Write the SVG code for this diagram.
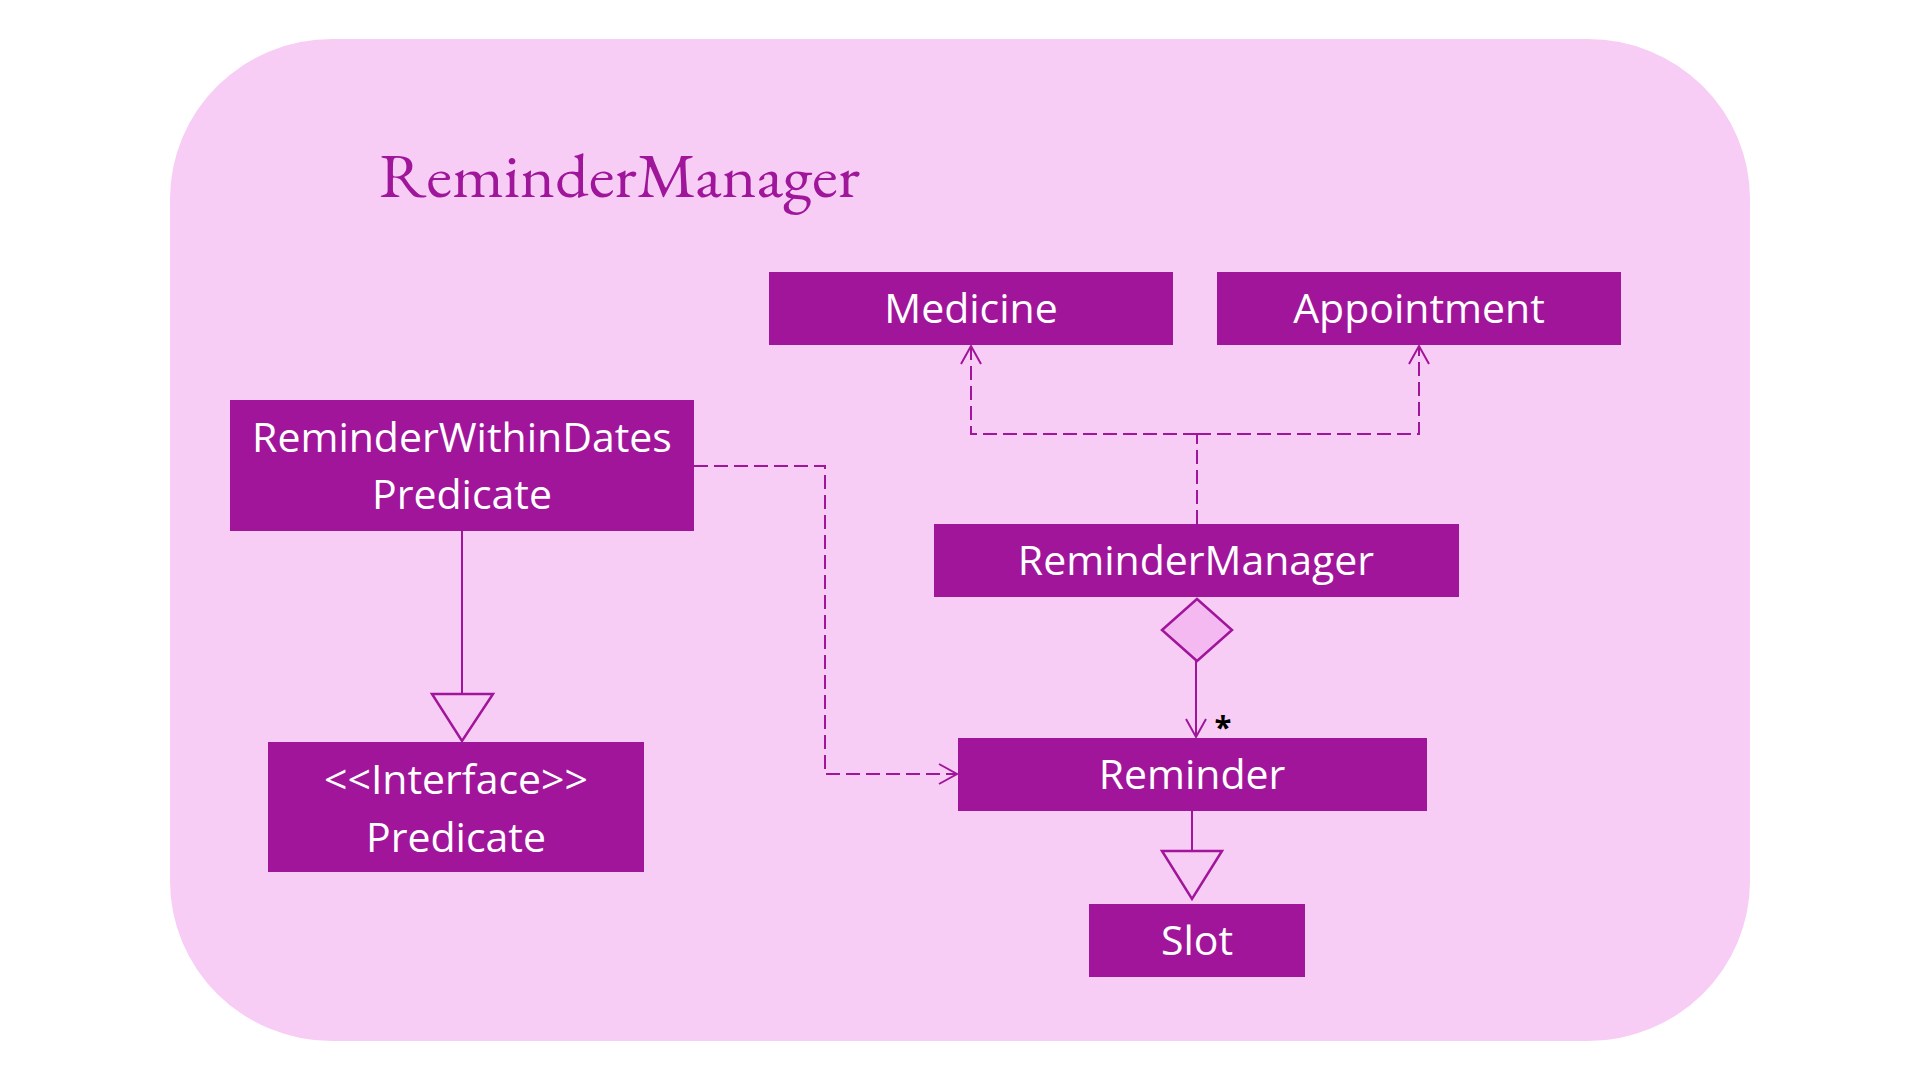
<svg xmlns="http://www.w3.org/2000/svg" width="1920" height="1080" viewBox="0 0 1920 1080">
<style>
.box{fill:#A1159B}
.lbl{font-family:"Open Sans","Noto Sans",sans-serif;font-size:41px;fill:#FFFFFF;text-anchor:middle}
.ln{fill:none;stroke:#A1159B;stroke-width:2}
.dash{stroke-dasharray:14 6}
.head{fill:#F8CDF5;stroke:#A1159B;stroke-width:2.5}
</style>
<defs>
<marker id="open" markerUnits="userSpaceOnUse" markerWidth="24" markerHeight="24" refX="20" refY="12" orient="auto">
<path d="M2,2 L20,12 L2,22" fill="none" stroke="#A1159B" stroke-width="2" stroke-dasharray="none"/>
</marker>
</defs>
<rect x="0" y="0" width="1920" height="1080" fill="#FFFFFF"/>
<rect x="170" y="39" width="1580" height="1002" rx="162" ry="160" fill="#F8CDF5"/>
<text x="379" y="197" font-family="'EB Garamond','Liberation Serif',serif" font-size="62" fill="#A0169B" textLength="481" lengthAdjust="spacingAndGlyphs">ReminderManager</text>

<g id="connectors">
<path class="ln dash" d="M1197,524 V434"/>
<path class="ln dash" d="M1197,434 H971 V346" marker-end="url(#open)"/>
<path class="ln dash" d="M1197,434 H1419 V346" marker-end="url(#open)"/>
<path class="ln dash" d="M694,466 H825 V774 H957" marker-end="url(#open)"/>
<path class="ln" d="M462,531 V694"/>
<polygon class="head" points="432,694 493,694 462,741"/>
<polygon points="1197,599 1232,630 1197,661 1162,630" fill="#F5B9F2" stroke="#A1159B" stroke-width="2.5"/>
<path class="ln" d="M1196,661 V737" marker-end="url(#open)"/>
<text x="1223" y="738" font-family="'Open Sans',sans-serif" font-size="31" font-weight="bold" fill="#000000" text-anchor="middle">*</text>
<path class="ln" d="M1192,811 V851"/>
<polygon class="head" points="1162,851 1222,851 1192,899"/>
</g>

<g id="medicine">
<rect class="box" x="769" y="272" width="404" height="73"/>
<text class="lbl" x="971" y="323">Medicine</text>
</g>
<g id="appointment">
<rect class="box" x="1217" y="272" width="404" height="73"/>
<text class="lbl" x="1419" y="323">Appointment</text>
</g>
<g id="reminderManager">
<rect class="box" x="934" y="524" width="525" height="73"/>
<text class="lbl" x="1196" y="575">ReminderManager</text>
</g>
<g id="reminderWithinDatesPredicate">
<rect class="box" x="230" y="400" width="464" height="131"/>
<text class="lbl" x="462" y="452">ReminderWithinDates</text>
<text class="lbl" x="462" y="509">Predicate</text>
</g>
<g id="predicate">
<rect class="box" x="268" y="742" width="376" height="130"/>
<text class="lbl" x="456" y="794">&lt;&lt;Interface&gt;&gt;</text>
<text class="lbl" x="456" y="852">Predicate</text>
</g>
<g id="reminder">
<rect class="box" x="958" y="738" width="469" height="73"/>
<text class="lbl" x="1192" y="789">Reminder</text>
</g>
<g id="slot">
<rect class="box" x="1089" y="904" width="216" height="73"/>
<text class="lbl" x="1197" y="955">Slot</text>
</g>
</svg>
